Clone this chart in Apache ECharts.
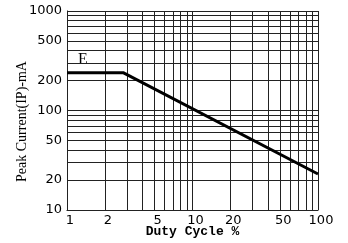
<!DOCTYPE html>
<html>
<head>
<meta charset="utf-8">
<script src="https://cdn.jsdelivr.net/npm/echarts@6/dist/echarts.min.js"></script>
<style>
html, body { margin: 0; padding: 0; background: #fff; }
#container { width: 348px; height: 243px; }
</style>
</head>
<body>
<div id="container"></div>
<script>
// curve E: duty cycle (%) vs peak current (mA)
var dutyCycle = [1, 2.8, 100];
var peakCurrent = [240, 240, 23];

// log grid lines and the ones that carry a label
var xGridValues = [1, 2, 3, 4, 5, 6, 7, 8, 9, 10, 20, 30, 40, 50, 60, 70, 80, 90, 100];
var yGridValues = [10, 20, 30, 40, 50, 60, 70, 80, 90, 100, 200, 300, 400, 500, 600, 700, 800, 900, 1000];
var xTickLabels = [1, 2, 5, 10, 20, 50, 100];
var yTickLabels = [10, 20, 50, 100, 200, 500, 1000];

var tickFont = { color: '#000', fontSize: 13, fontFamily: 'DejaVu Sans' };

var gridLines = [];
xGridValues.forEach(function (v) {
    gridLines.push({
        name: String(v), xAxis: v,
        label: Object.assign({ show: xTickLabels.indexOf(v) >= 0, position: 'start', distance: 4, offset: [3, 0], formatter: '{b}' }, tickFont)
    });
});
yGridValues.forEach(function (v) {
    gridLines.push({
        name: String(v), yAxis: v,
        label: Object.assign({ show: yTickLabels.indexOf(v) >= 0, position: 'start', distance: 5, formatter: '{b}' }, tickFont)
    });
});

var dom = document.getElementById('container');
var myChart = echarts.init(dom);
var option = {
    animation: false,
    grid: { left: 67, right: 30, top: 11, bottom: 33 },
    xAxis: {
        type: 'log',
        min: 1,
        max: 100,
        name: 'Duty Cycle %',
        nameLocation: 'middle',
        nameGap: 15,
        nameTextStyle: { color: '#000', fontSize: 13, fontFamily: 'Liberation Mono', fontWeight: 'bold' },
        axisLine: { lineStyle: { color: '#000', width: 1 } },
        axisTick: { show: false },
        axisLabel: { show: false },
        splitLine: { show: false }
    },
    yAxis: {
        type: 'log',
        min: 10,
        max: 1000,
        name: 'Peak Current(IP)-mA',
        nameLocation: 'middle',
        nameGap: 38,
        nameTextStyle: { color: '#000', fontSize: 14, fontFamily: 'Liberation Serif', padding: [0, 22, 0, 0] },
        axisLine: { show: true, lineStyle: { color: '#000', width: 1 } },
        axisTick: { show: false },
        axisLabel: { show: false },
        splitLine: { show: false }
    },
    graphic: [{
        type: 'text',
        left: 78,
        top: 52,
        style: { text: 'E', fill: '#000', font: '16px "Liberation Serif"' }
    }],
    series: [{
        name: 'E',
        type: 'line',
        z: 3,
        silent: true,
        symbol: 'none',
        data: dutyCycle.map(function (x, i) { return [x, peakCurrent[i]]; }),
        lineStyle: { color: '#000', width: 3 },
        markLine: {
            z: 1,
            silent: true,
            symbol: 'none',
            lineStyle: { color: '#222', width: 1, type: 'solid' },
            emphasis: { disabled: true },
            data: gridLines
        }
    }]
};
myChart.setOption(option, true);
</script>
</body>
</html>
